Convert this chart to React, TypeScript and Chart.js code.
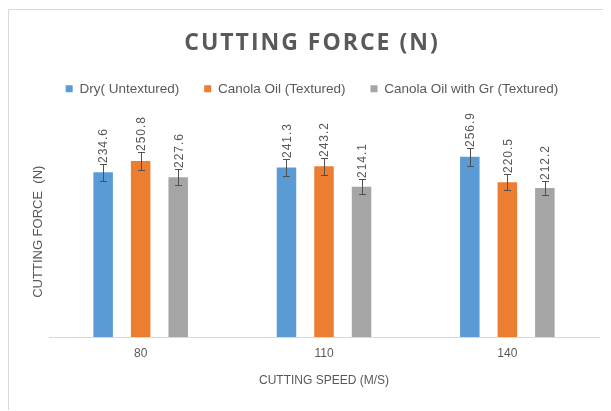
import React, { useEffect, useRef } from 'react';
import { Chart, registerables } from 'chart.js';

Chart.register(...registerables);

const categories = ['80', '110', '140'];
const seriesNames = ['Dry( Untextured)', 'Canola Oil (Textured)', 'Canola Oil with Gr (Textured)'];
const dryValues = [234.6, 241.3, 256.9];
const canolaValues = [250.8, 243.2, 220.5];
const grValues = [227.6, 214.1, 212.2];
const dryErrors = [11.7, 12.1, 12.8];
const canolaErrors = [12.5, 12.2, 11.0];
const grErrors = [11.4, 10.7, 10.6];
const seriesColors = ['#5B9BD5', '#ED7D31', '#A5A5A5'];

const TEXT = '#595959';
const SANS = '"Liberation Sans", Arial, sans-serif';

const errorLabelPlugin = {
  id: 'errorLabels',
  afterDatasetsDraw(chart: any) {
    const ctx = chart.ctx;
    const y = chart.scales.y;
    chart.data.datasets.forEach((ds: any, di: number) => {
      const meta = chart.getDatasetMeta(di);
      meta.data.forEach((bar: any, i: number) => {
        const v = ds.data[i];
        const e = ds.errors[i];
        const x = Math.round(bar.x) + 0.5;
        const yHi = Math.round(y.getPixelForValue(v + e)) + 0.5;
        const yLo = Math.round(y.getPixelForValue(v - e)) + 0.5;
        ctx.save();
        ctx.strokeStyle = '#505050';
        ctx.lineWidth = 1;
        ctx.beginPath();
        ctx.moveTo(x, yLo);
        ctx.lineTo(x, yHi);
        ctx.moveTo(x - 3.5, yHi);
        ctx.lineTo(x + 3.5, yHi);
        ctx.moveTo(x - 3.5, yLo);
        ctx.lineTo(x + 3.5, yLo);
        ctx.stroke();
        ctx.translate(bar.x + 1, yHi - 1.5);
        ctx.rotate(-Math.PI / 2);
        ctx.font = '12px ' + SANS;
        try { (ctx as any).letterSpacing = '1px'; } catch (err) {}
        ctx.fillStyle = TEXT;
        ctx.textAlign = 'left';
        ctx.textBaseline = 'middle';
        ctx.fillText(v.toFixed(1), 0, 0);
        ctx.restore();
      });
    });
  },
};

const titleSpacingPlugin = {
  id: 'titleSpacing',
  beforeDraw(chart: any) {
    const tb = chart.titleBlock;
    if (tb && !tb.__spaced) {
      const orig = tb.draw.bind(tb);
      tb.draw = (...args: any[]) => {
        const ctx = chart.ctx;
        ctx.save();
        try { (ctx as any).letterSpacing = '2px'; } catch (err) {}
        orig(...args);
        ctx.restore();
      };
      tb.__spaced = true;
    }
  },
};

export default function App() {
  const ref = useRef<HTMLCanvasElement>(null);
  useEffect(() => {
    const values = [dryValues, canolaValues, grValues];
    const errors = [dryErrors, canolaErrors, grErrors];
    const chart = new Chart(ref.current as HTMLCanvasElement, {
      type: 'bar',
      data: {
        labels: categories,
        datasets: seriesNames.map((name, i) => ({
          label: name,
          data: values[i],
          errors: errors[i],
          backgroundColor: seriesColors[i],
          borderWidth: 0,
          categoryPercentage: 0.614,
          barPercentage: 0.52,
        })) as any,
      },
      options: {
        animation: false,
        responsive: true,
        maintainAspectRatio: false,
        layout: { padding: { left: 16, right: 12, top: 0, bottom: 0 } },
        plugins: {
          title: {
            display: true,
            text: 'CUTTING FORCE (N)',
            color: TEXT,
            font: { family: '"Open Sans", sans-serif', size: 23, weight: 'bold' },
            padding: { top: 19.5, bottom: 0 },
          },
          subtitle: {
            display: true,
            text: ' ',
            position: 'top',
            weight: 500,
            font: { size: 10 },
            padding: { top: 8.8, bottom: 0 },
          } as any,
          legend: {
            position: 'top',
            labels: {
              boxWidth: 7,
              boxHeight: 7,
              padding: 25,
              color: TEXT,
              font: { family: SANS, size: 13.5 },
            },
          },
          tooltip: { enabled: false },
        },
        scales: {
          x: {
            grid: { display: false, drawTicks: false },
            border: { display: true, color: '#d9d9d9', width: 1 },
            ticks: { color: TEXT, padding: 9, font: { family: SANS, size: 12 } },
            title: {
              display: true,
              text: 'CUTTING SPEED (M/S)',
              color: TEXT,
              font: { family: SANS, size: 12 },
              padding: { top: 4, bottom: 23 },
            },
            afterFit: (s: any) => { s.height = 74; },
          },
          y: {
            min: 0,
            max: 300,
            ticks: { display: false },
            grid: { display: false },
            border: { display: false },
            title: {
              display: true,
              text: 'CUTTING FORCE  (N)',
              color: TEXT,
              font: { family: SANS, size: 13 },
              padding: { top: 5.4, bottom: 0 },
            },
            afterFit: (s: any) => { s.width = 24; },
          },
        },
      } as any,
      plugins: [errorLabelPlugin, titleSpacingPlugin],
    });
    return () => chart.destroy();
  }, []);

  return (
    <div
      style={{
        position: 'relative',
        top: 1,
        width: 603,
        height: 402,
        boxSizing: 'border-box',
        borderLeft: '1px solid #d9d9d9',
        borderTop: '1px solid #d9d9d9',
      }}
    >
      <canvas ref={ref} />
    </div>
  );
}
